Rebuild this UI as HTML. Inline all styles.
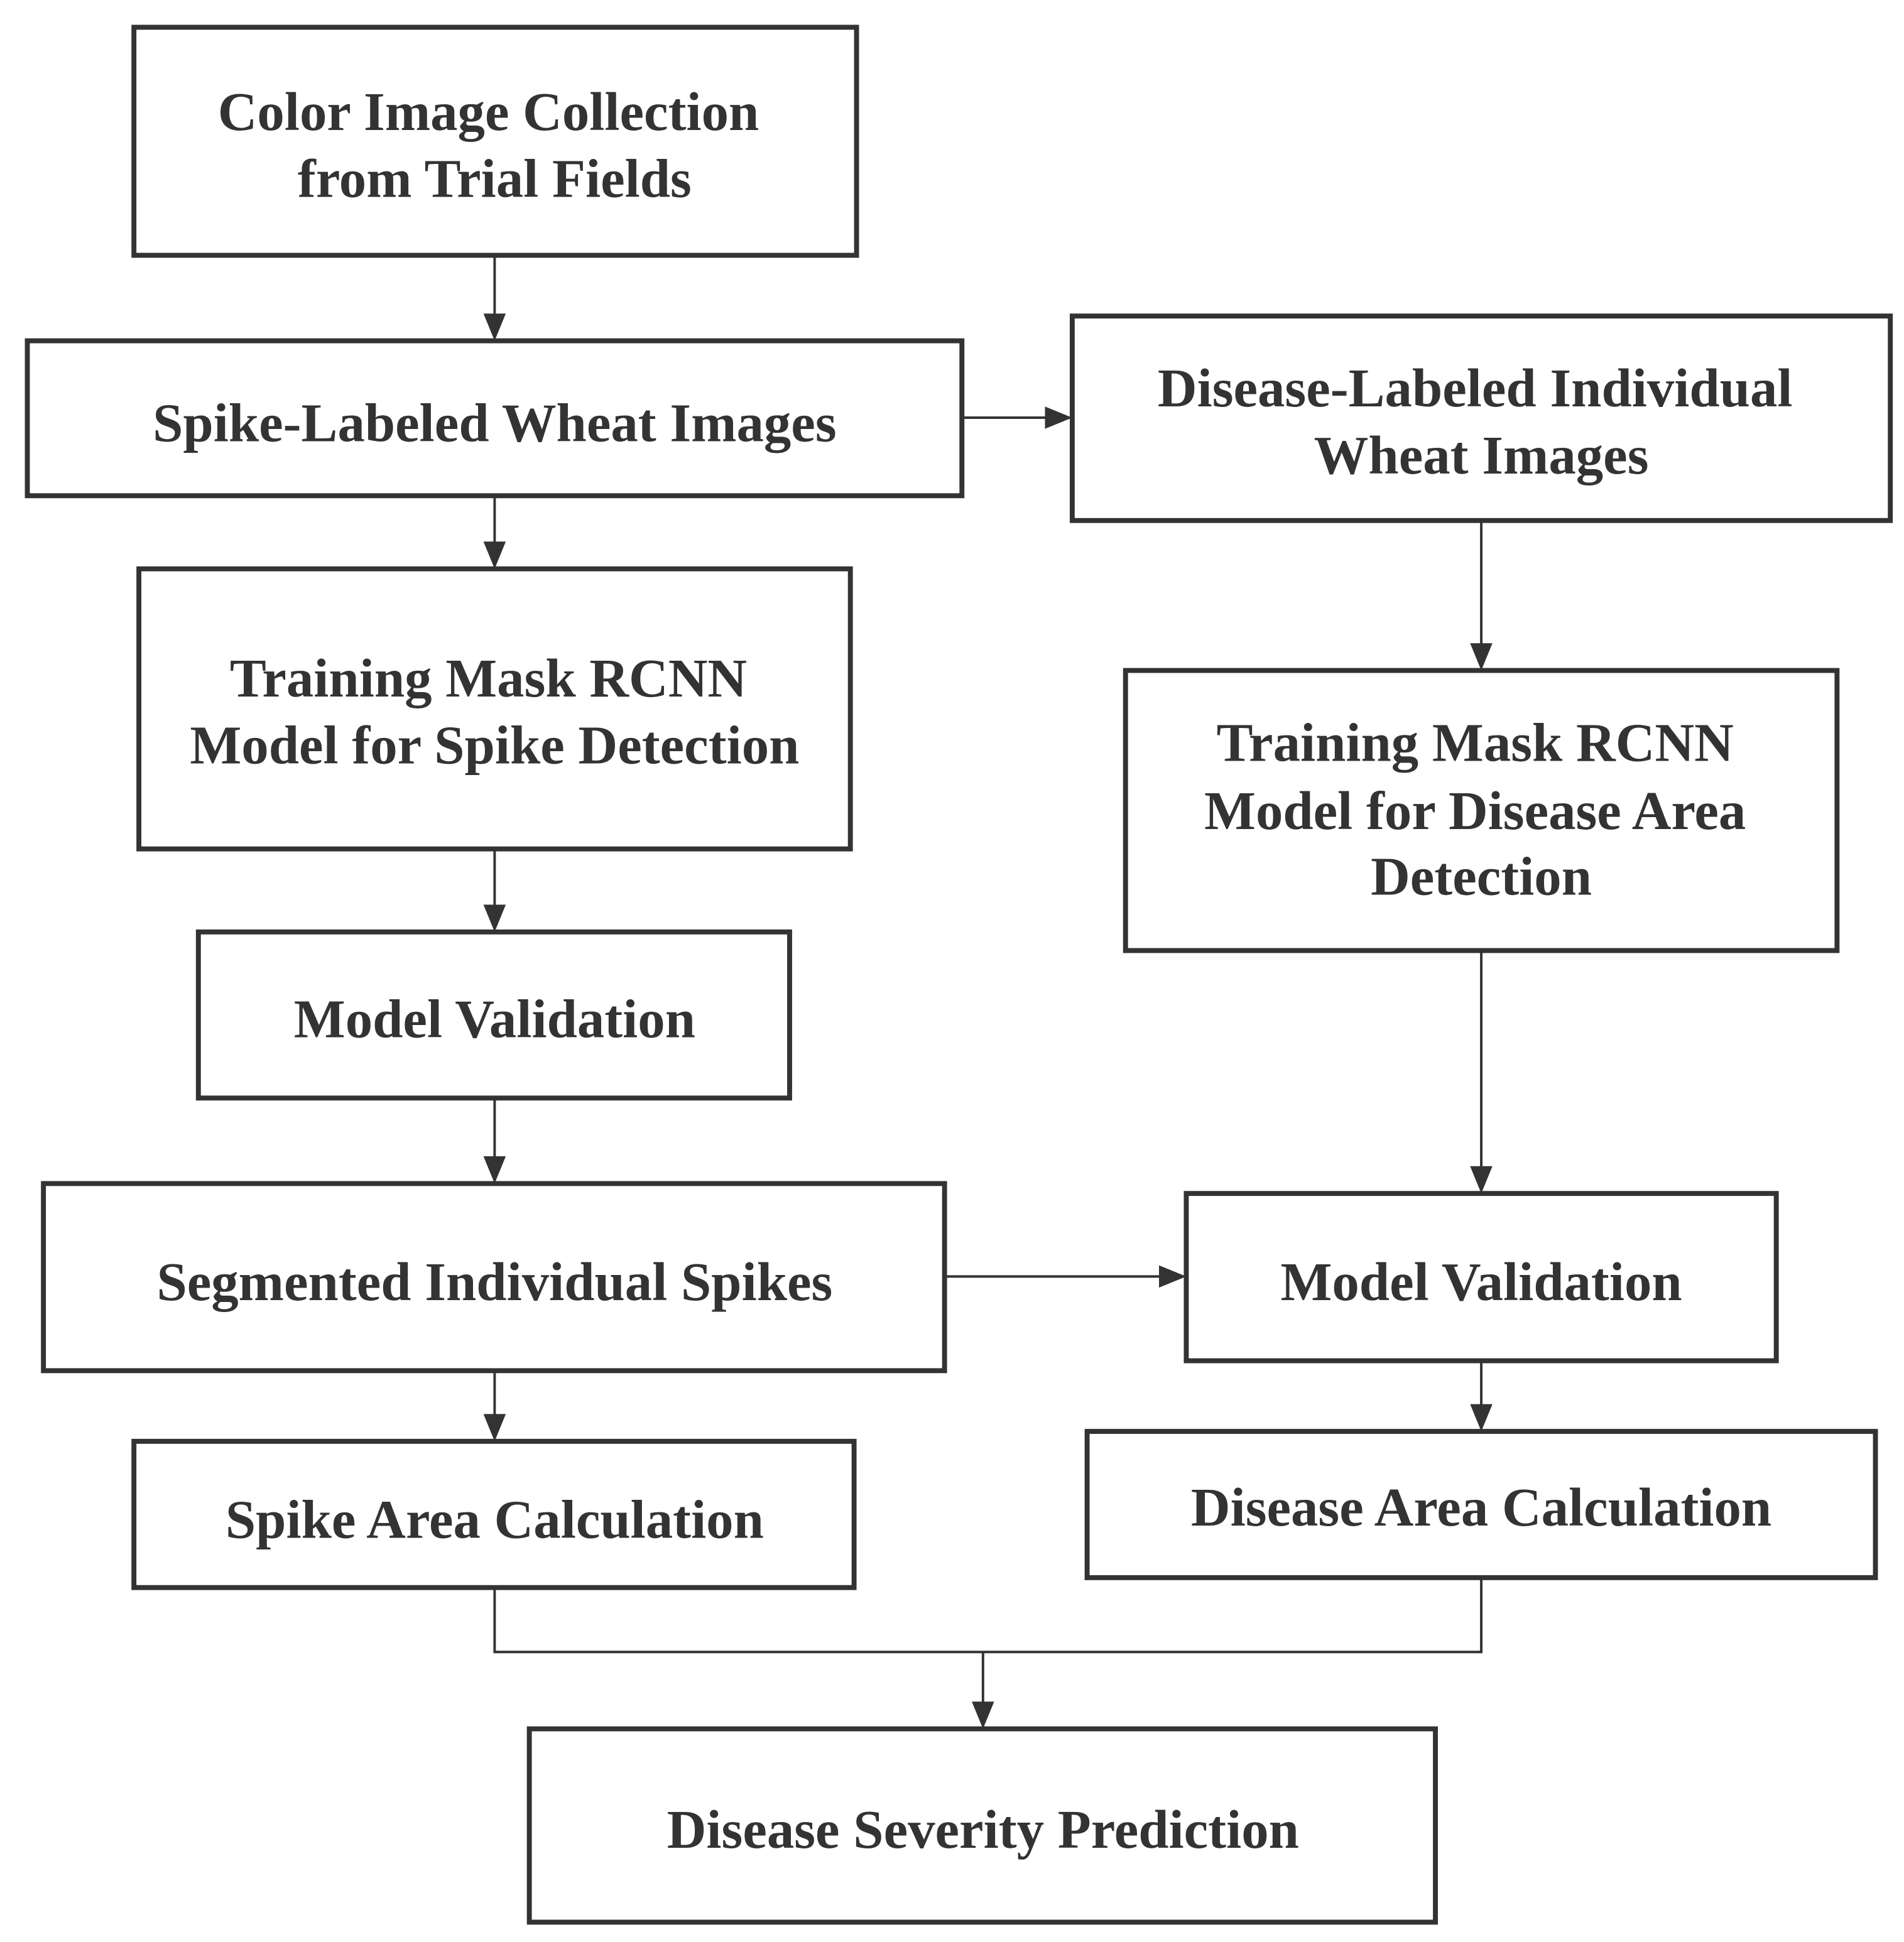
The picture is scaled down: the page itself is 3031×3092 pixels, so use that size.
<!DOCTYPE html>
<html><head><style>html,body{margin:0;padding:0;background:#fff}svg{display:block}</style></head><body>
<svg width="3031" height="3092" viewBox="0 0 1536 1567" xmlns="http://www.w3.org/2000/svg">
<rect width="1536" height="1567" fill="#fff"/>
<g fill="none" stroke="#333" stroke-width="4">
<rect x="108" y="22" width="583" height="184"/>
<rect x="22" y="275" width="754" height="125"/>
<rect x="865" y="255" width="660" height="165"/>
<rect x="112" y="459" width="574" height="226"/>
<rect x="908" y="541" width="574" height="226"/>
<rect x="160" y="752" width="477" height="134"/>
<rect x="35" y="955" width="727" height="151"/>
<rect x="957" y="963" width="476" height="135"/>
<rect x="108" y="1163" width="581" height="118"/>
<rect x="877" y="1155" width="636" height="118"/>
<rect x="427" y="1395" width="731" height="156"/>
</g>
<g fill="none" stroke="#333" stroke-width="2">
<path d="M399 206V255M399 400V440M399 685V732M399 886V935M399 1106V1143M776 337H845M762 1030H937M1195 420V521M1195 767V943M1195 1098V1135M399 1281V1333H1195V1273M793 1333V1375"/>
</g>
<g fill="#333">
<path d="M390 253L408 253L399 275Z"/>
<path d="M390 437L408 437L399 459Z"/>
<path d="M390 730L408 730L399 752Z"/>
<path d="M390 933L408 933L399 955Z"/>
<path d="M390 1141L408 1141L399 1163Z"/>
<path d="M843 328L843 346L865 337Z"/>
<path d="M935 1021L935 1039L957 1030Z"/>
<path d="M1186 519L1204 519L1195 541Z"/>
<path d="M1186 941L1204 941L1195 963Z"/>
<path d="M1186 1133L1204 1133L1195 1155Z"/>
<path d="M784 1373L802 1373L793 1395Z"/>
</g>
<g font-family="Liberation Serif, serif" font-weight="bold" font-size="44" fill="#333" text-anchor="middle">
<text x="394" y="105">Color Image Collection</text>
<text x="399" y="159">from Trial Fields</text>
<text x="399" y="356">Spike-Labeled Wheat Images</text>
<text x="1190" y="328">Disease-Labeled Individual</text>
<text x="1195" y="382">Wheat Images</text>
<text x="394" y="562">Training Mask RCNN</text>
<text x="399" y="616">Model for Spike Detection</text>
<text x="1190" y="614">Training Mask RCNN</text>
<text x="1190" y="669">Model for Disease Area</text>
<text x="1195" y="722">Detection</text>
<text x="399" y="837">Model Validation</text>
<text x="399" y="1049">Segmented Individual Spikes</text>
<text x="1195" y="1049">Model Validation</text>
<text x="399" y="1241">Spike Area Calculation</text>
<text x="1195" y="1231">Disease Area Calculation</text>
<text x="793" y="1491">Disease Severity Prediction</text>
</g>
</svg>
</body></html>
